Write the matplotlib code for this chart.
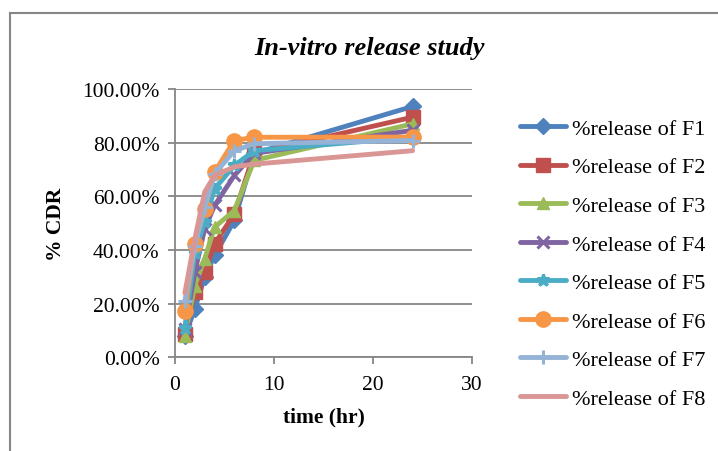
import matplotlib.pyplot as plt
from matplotlib.lines import Line2D
from matplotlib.ticker import FuncFormatter

# time points (hr) and % cumulative drug release for each formulation
time_hr = [1, 2, 3, 4, 6, 8, 24]
f1 = [8.0, 18.0, 30.0, 38.0, 51.0, 76.0, 93.5]
f2 = [8.7, 24.2, 31.7, 42.3, 53.5, 76.0, 89.5]
f3 = [8.0, 26.7, 36.7, 48.5, 54.7, 73.4, 87.0]
f4 = [10.6, 31.7, 47.9, 56.6, 67.8, 76.0, 84.6]
f5 = [11.0, 39.0, 50.4, 62.8, 71.5, 77.0, 82.0]
f6 = [17.4, 42.3, 55.3, 69.1, 80.8, 82.0, 82.1]
f7 = [21.0, 41.6, 56.0, 68.4, 77.0, 79.6, 80.8]
f8 = [24.0, 44.0, 61.6, 67.8, 71.0, 72.0, 77.0]
labels = ['%release of F1', '%release of F2', '%release of F3', '%release of F4',
          '%release of F5', '%release of F6', '%release of F7', '%release of F8']

series = [f1, f2, f3, f4, f5, f6, f7, f8]
colors = ['#4F81BD', '#C0504D', '#9BBB59', '#8064A2', '#4BACC6', '#F79646', '#95B3D7', '#D99694']
markers = ['D', 's', '^', 'x', '*', 'o', '+', None]
msizes = [8, 10, 9, 8, 9, 11, 10, 0]

plt.rcParams['font.family'] = ['Liberation Serif', 'DejaVu Serif']

fig = plt.figure(figsize=(7.18, 4.52), dpi=100)
ax = fig.add_axes([0.2437, 0.2073, 0.4137, 0.5936])

handles = []
for y, c, m, ms, lab in zip(series, colors, markers, msizes, labels):
    mew = 2.2 if m in ('x', '+', '*') else 1
    h, = ax.plot(time_hr, y, color=c, lw=3.5, marker=m, ms=ms, mec=c, mfc=c,
                 mew=mew, solid_capstyle='round', solid_joinstyle='round', label=lab)
    handles.append(h)

ax.set_xlim(0, 30)
ax.set_ylim(0, 100)
ax.set_xticks([0, 10, 20, 30])
ax.set_yticks([0, 20, 40, 60, 80, 100])
ax.yaxis.set_major_formatter(FuncFormatter(lambda v, p: '%.2f%%' % v))
ax.grid(axis='y', color='#868686', lw=1.3)
ax.set_axisbelow(True)
for s in ['top', 'right']:
    ax.spines[s].set_visible(False)
for s in ['left', 'bottom']:
    ax.spines[s].set_color('#868686')
    ax.spines[s].set_linewidth(1.3)
ax.tick_params(axis='both', colors='#868686', length=5, width=1.3, labelsize=15.5,
               labelcolor='black')
ax.tick_params(axis='y', pad=6)
ax.tick_params(axis='x', pad=8)

ax.set_xlabel('time (hr)', fontsize=15.5, fontweight='bold', labelpad=9)
ax.set_ylabel('% CDR', fontsize=15.5, fontweight='bold', labelpad=12)
fig.text(0.514, 0.893, 'In-vitro release study', fontsize=19, fontweight='bold',
         fontstyle='italic', ha='center', va='center')

fig.legend(handles=handles, loc='upper left', bbox_to_anchor=(0.724, 0.736),
           frameon=False, fontsize=16, handlelength=2.1, handletextpad=0.25,
           labelspacing=0.81, borderaxespad=0, borderpad=0)

# chart area border (left and top edges visible)
fig.add_artist(Line2D([10 / 718, 10 / 718], [0, 1 - 14 / 452], color='#868686', lw=1.5))
fig.add_artist(Line2D([10 / 718, 1], [1 - 14 / 452, 1 - 14 / 452], color='#868686', lw=1.5))

fig.savefig('out.png', dpi=100)
